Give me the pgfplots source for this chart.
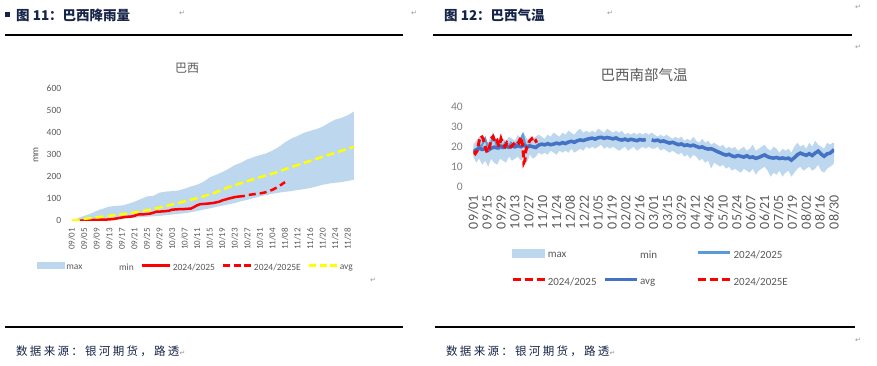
\documentclass[border=0pt]{standalone}
\usepackage{fontspec}
\setmainfont{Carlito}
\newfontfamily\cjk{Noto Sans CJK SC}
\newfontfamily\cjksp{Noto Sans CJK SC}[LetterSpace=20]
\newfontfamily\sym{DejaVu Sans}
\usepackage{pgfplots}
\usepgfplotslibrary{fillbetween}
\pgfplotsset{compat=1.18}
\usepackage{pgfplotstable}
\definecolor{bandblue}{RGB}{189,215,238}
\definecolor{avgblue}{RGB}{68,114,196}
\definecolor{lineblue}{RGB}{91,155,213}
\definecolor{txt}{RGB}{89,89,89}
\definecolor{txtl}{RGB}{128,128,128}
\definecolor{navy}{RGB}{22,36,72}
\definecolor{yel}{RGB}{255,255,0}
\definecolor{retgray}{RGB}{150,150,150}

% ---- rain (left) ----
\pgfplotstableread{
d u l
0 0 0
2 12 1
4 22 2
6 32 2
8 45 3
10 55 4
12 64 5
14 67 6
16 69 8
18 76 11
20 86 13
22 98 16
24 110 18
26 113 20
28 127 22
30 132 25
32 134 28
34 137 31
36 145 34
38 155 38
40 163 44
42 176 50
44 196 56
46 208 62
48 220 68
50 235 74
52 252 80
54 263 88
56 278 95
58 288 102
60 297 110
62 305 116
64 318 122
66 334 127
68 355 131
70 372 134
72 384 139
74 398 143
76 407 148
78 415 155
80 426 163
82 443 168
84 458 172
86 466 175
88 478 180
90 495 186
}\raintab

\pgfplotstableread{
d v
0 0
5 10
10 19
15 27
20 37
25 50
30 66
35 84
40 102
45 123
50 152
55 175
60 197
65 218
70 243
75 266
80 290
85 312
90 335
}\rainavg

\pgfplotstableread{
d v
2 0
5 2
8 4
11 5
13 7
15 12
17 17
19 19
20 22
21 28
23 29
25 32
26 36
27 41
29 42
31 45
32 50
34 52
36 53
38 55
39 62
40 70
41 75
43 77
45 80
47 86
48 92
50 100
52 107
53 109
}\rainact

\pgfplotstableread{
d v
53 109
55 112
57 118
59 122
61 126
62 130
64 140
66 155
68 175
}\rainest

% ---- temperature (right) ----
\pgfplotstableread{
d u l a
0 21 15 17.5
3 23 12 18.5
6 25 14 19.2
9 24 11 18.6
12 23 13 19.0
15 22 10 18.3
18 26 14 19.2
21 24 12 19.8
24 23 11 19.4
27 25 14 20.1
30 24 13 19.6
33 23 12 20.2
36 25 15 19.7
39 24 13 20.3
42 23 14 19.9
45 26 15 20.5
48 24 13 20.0
51 27 15 20.8
54 24 12 19.8
57 23 16 20.4
60 24 14 20.0
63 25 15 19.6
66 26 17 20.8
69 25 16 21.3
72 24 17 20.9
75 26 16 21.5
78 25 18 21.0
81 27 17 21.3
84 26 16 21.8
87 25 18 21.4
90 27 17 22.0
93 26 18 21.6
96 28 17 22.3
99 27 19 22.7
102 26 17 22.2
105 28 18 23.0
108 29 19 23.4
111 27 18 23.1
114 28 20 23.6
117 27 19 24.0
120 28 20 24.3
123 27 19 23.8
126 29 20 24.5
129 28 21 24.7
132 27 19 24.2
135 29 20 24.6
138 28 19 24.3
141 27 20 23.9
144 28 19 24.4
147 27 18 23.6
150 28 19 23.3
153 26 20 23.8
156 27 18 23.2
159 26 19 23.7
162 27 20 23.4
165 26 18 23.0
168 27 19 23.6
171 26 20 23.3
174 27 19 23.5
177 26 20 nan
180 27 19 23.4
183 26 19 23.0
186 25 20 23.3
189 26 18 22.6
192 25 19 22.9
195 26 18 22.3
198 25 17 21.8
201 24 18 22.2
204 25 17 21.6
207 24 16 21.0
210 25 17 21.4
213 23 15 20.6
216 24 16 20.9
219 23 14 20.4
222 25 16 20.8
225 23 15 20.2
228 22 13 19.6
231 24 14 19.9
234 22 12 19.2
237 23 13 18.8
240 21 9 19.0
243 22 12 18.4
246 21 11 17.6
249 20 10 17.0
252 21 11 16.3
255 19 9 15.8
258 20 10 16.2
261 19 8 15.4
264 20 9 15.0
267 18 8 15.6
270 19 7 15.2
273 20 9 14.8
276 18 8 15.5
279 19 7 14.6
282 21 9 14.9
285 18 6 14.2
288 19 8 14.6
291 20 9 15.3
294 21 10 15.9
297 19 8 15.0
300 18 5 14.5
303 20 7 14.3
306 19 6 14.6
309 17 8 14.1
312 19 5 14.4
315 18 7 14.0
318 19 8 14.3
321 17 5 13.3
324 20 7 14.5
327 22 9 16.0
330 20 10 16.8
333 21 8 16.2
336 19 9 15.7
339 22 10 16.5
342 20 8 15.6
345 23 9 16.8
348 21 11 17.8
351 20 8 16.3
354 19 7 15.2
357 22 9 16.4
360 21 10 16.8
363 22 11 18.0
364 22 12 18.7
}\temptab

\pgfplotstableread{
d v
0 18
2 17
4 19
6 21
8 20
10 22
12 24
14 21
16 19
18 22
20 25.5
22 23
24 20
26 19
28 21
30 20
32 22
34 21
36 20
38 22
40 21
42 20
44 22
46 23
48 24
50 26
52 22
54 20
56 21
}\tempact

\pgfplotstableread{
d v
0 17.5
2 16.5
4 18
6 23
8 25.5
10 24
12 20
14 17
16 19
18 24
20 25
22 22
24 23
26 20
28 24
30 21
32 20
34 22
36 21
38 20
40 21
42 22
44 23
46 22
48 25
50 20
51 12
52 13
53 18
55 21
57 23
59 24
61 22
63 23
64 22
}\tempred

\begin{document}
\begin{tikzpicture}
\path (0pt,0pt) rectangle (877pt,365pt);

% ---------- document frame ----------
\fill[navy] (5pt,348pt) rectangle (10pt,353pt);
\node[anchor=west, inner sep=0pt, text=navy, font=\cjk\bfseries\fontsize{13.5}{15}\selectfont] at (16pt,350pt) {图 11：巴西降雨量};
\node[anchor=west, inner sep=0pt, text=navy, font=\cjk\bfseries\fontsize{13.5}{15}\selectfont] at (444pt,350pt) {图 12：巴西气温};
\draw[line width=1.2pt] (5pt,330pt) -- (403pt,330pt);
\draw[line width=1.2pt] (433pt,330pt) -- (852pt,330pt);
\draw[line width=1.2pt] (5pt,38pt) -- (403pt,38pt);
\draw[line width=1.2pt] (435pt,38pt) -- (855pt,38pt);
\node[anchor=west, inner sep=0pt, text=navy, font=\cjksp\fontsize{11.5}{13}\selectfont] at (16pt,14pt) {数据来源：银河期货，路透{\sym\color{retgray}\fontsize{7}{8}\selectfont ↵}};
\node[anchor=west, inner sep=0pt, text=navy, font=\cjksp\fontsize{11.5}{13}\selectfont] at (446pt,14pt) {数据来源：银河期货，路透{\sym\color{retgray}\fontsize{7}{8}\selectfont ↵}};
\foreach \px/\py in {182/352, 414/352, 610/352, 858/358, 858/318, 373/85, 858/25}
  \node[text=retgray, font=\sym\fontsize{7}{8}\selectfont, inner sep=0pt] at (\px pt,\py pt) {↵};

% ---------- titles ----------
\node[text=txt, font=\cjk\fontsize{12}{14}\selectfont] at (187pt,297pt) {巴西};
\node[text=txt, font=\cjk\fontsize{14.5}{16}\selectfont] at (644pt,290pt) {巴西南部气温};
\node[text=txt, rotate=90, font=\fontsize{10}{12}\selectfont] at (36pt,210pt) {mm};

% ---------- left: rainfall ----------
\begin{axis}[
  at={(71.7pt,144.3pt)}, anchor=south west, scale only axis,
  width=282.3pt, height=132.4pt,
  xmin=0, xmax=90, ymin=0, ymax=600,
  ytick={0,100,...,600},
  xtick={0,4,...,88},
  xticklabels={09/01,09/05,09/09,09/13,09/17,09/21,09/25,09/29,10/03,10/07,10/11,10/15,10/19,10/23,10/27,10/31,11/04,11/08,11/12,11/16,11/20,11/24,11/28},
  axis line style={draw=none}, tick style={draw=none}, major tick length=0pt,
  /pgf/number format/assume math mode=true,
  yticklabel style={font=\fontsize{9.5}{11}\selectfont, text=txt},
  yticklabel shift=7pt,
  xticklabel style={font=\fontsize{9}{10}\selectfont, text=txt, rotate=90, anchor=east},
  xticklabel shift=4pt,
  legend columns=5,
  legend style={draw=none, fill=none, at={(0.44,-0.355)}, anchor=center,
    font=\fontsize{9.5}{11}\selectfont, text=txt,
    nodes={inner sep=1.5pt},
    /tikz/every even column/.append style={column sep=5.5pt}},
]
\addplot[name path=lmax, draw=none, forget plot] table[x=d, y=u]{\raintab};
\addplot[name path=lmin, draw=none, forget plot] table[x=d, y=l]{\raintab};
\addplot[bandblue, forget plot] fill between[of=lmax and lmin];
\addplot[red, line width=2.5pt, forget plot] table[x=d, y=v]{\rainact};
\addplot[red, line width=2.5pt, dash pattern=on 7pt off 4pt, forget plot] table[x=d, y=v]{\rainest};
\addplot[yel, line width=2.5pt, dash pattern=on 8pt off 4pt, forget plot] table[x=d, y=v]{\rainavg};

\addlegendimage{legend image code/.code={\fill[bandblue] (0pt,-0.5pt) rectangle (27pt,5.5pt);}}
\addlegendentry{max}
\addlegendimage{legend image code/.code={\path[draw=none,fill=none] (0pt,2.5pt) -- (28pt,2.5pt);}}
\addlegendentry{min}
\addlegendimage{legend image code/.code={\draw[red, line width=2.5pt] (0pt,2.5pt) -- (28pt,2.5pt);}}
\addlegendentry{2024/2025}
\addlegendimage{legend image code/.code={\draw[red, line width=2.5pt, dash pattern=on 7pt off 3.5pt] (0pt,2.5pt) -- (28pt,2.5pt);}}
\addlegendentry{2024/2025E}
\addlegendimage{legend image code/.code={\draw[yel, line width=2.5pt, dash pattern=on 7pt off 3.5pt] (0pt,2.5pt) -- (28pt,2.5pt);}}
\addlegendentry{avg}
\end{axis}

% ---------- right: temperature ----------
\begin{axis}[
  at={(473.3pt,178.3pt)}, anchor=south west, scale only axis,
  width=360.7pt, height=80pt,
  xmin=0, xmax=364, ymin=0, ymax=40,
  ytick={0,10,...,40},
  xtick={0,14,...,364},
  xticklabels={09/01,09/15,09/29,10/13,10/27,11/10,11/24,12/08,12/22,01/05,01/19,02/02,02/16,03/01,03/15,03/29,04/12,04/26,05/10,05/24,06/07,06/21,07/05,07/19,08/02,08/16,08/30},
  axis line style={draw=none}, tick style={draw=none}, major tick length=0pt,
  /pgf/number format/assume math mode=true,
  yticklabel style={font=\fontsize{11.5}{13}\selectfont, text=txtl},
  yticklabel shift=7pt,
  xticklabel style={font=\fontsize{14}{15}\selectfont, text=txt, rotate=90, anchor=east},
  xticklabel shift=5pt,
  unbounded coords=jump,
  legend columns=3,
  legend cell align=left,
  legend style={draw=none, fill=none, at={(0.49,-1.0225)}, anchor=center,
    font=\fontsize{11}{13}\selectfont, text=txt,
    nodes={inner sep=1.5pt}, row sep=14.5pt,
    /tikz/every even column/.append style={column sep=5pt}},
]
\addplot[name path=rmax, draw=none, forget plot] table[x=d, y=u]{\temptab};
\addplot[name path=rmin, draw=none, forget plot] table[x=d, y=l]{\temptab};
\addplot[bandblue, forget plot] fill between[of=rmax and rmin];
\addplot[lineblue, line width=2pt, forget plot] table[x=d, y=v]{\tempact};
\addplot[avgblue, line width=3.5pt, forget plot] table[x=d, y=a]{\temptab};
\addplot[red, line width=3pt, dash pattern=on 7pt off 4pt, forget plot] table[x=d, y=v]{\tempred};

\addlegendimage{legend image code/.code={\fill[bandblue] (0pt,-1pt) rectangle (32pt,7pt);}}
\addlegendentry{max}
\addlegendimage{legend image code/.code={\path[draw=none,fill=none] (0pt,3pt) -- (32pt,3pt);}}
\addlegendentry{\makebox[50pt][l]{min}}
\addlegendimage{legend image code/.code={\draw[lineblue, line width=3pt] (0pt,3pt) -- (32pt,3pt);}}
\addlegendentry{2024/2025}
\addlegendimage{legend image code/.code={\draw[red, line width=3.5pt, dash pattern=on 8pt off 4pt] (0pt,3pt) -- (32pt,3pt);}}
\addlegendentry{2024/2025}
\addlegendimage{legend image code/.code={\draw[avgblue, line width=3.5pt] (0pt,3pt) -- (32pt,3pt);}}
\addlegendentry{\makebox[50pt][l]{avg}}
\addlegendimage{legend image code/.code={\draw[red, line width=3.5pt, dash pattern=on 8pt off 4pt] (0pt,3pt) -- (32pt,3pt);}}
\addlegendentry{2024/2025E}
\end{axis}
\end{tikzpicture}
\end{document}
